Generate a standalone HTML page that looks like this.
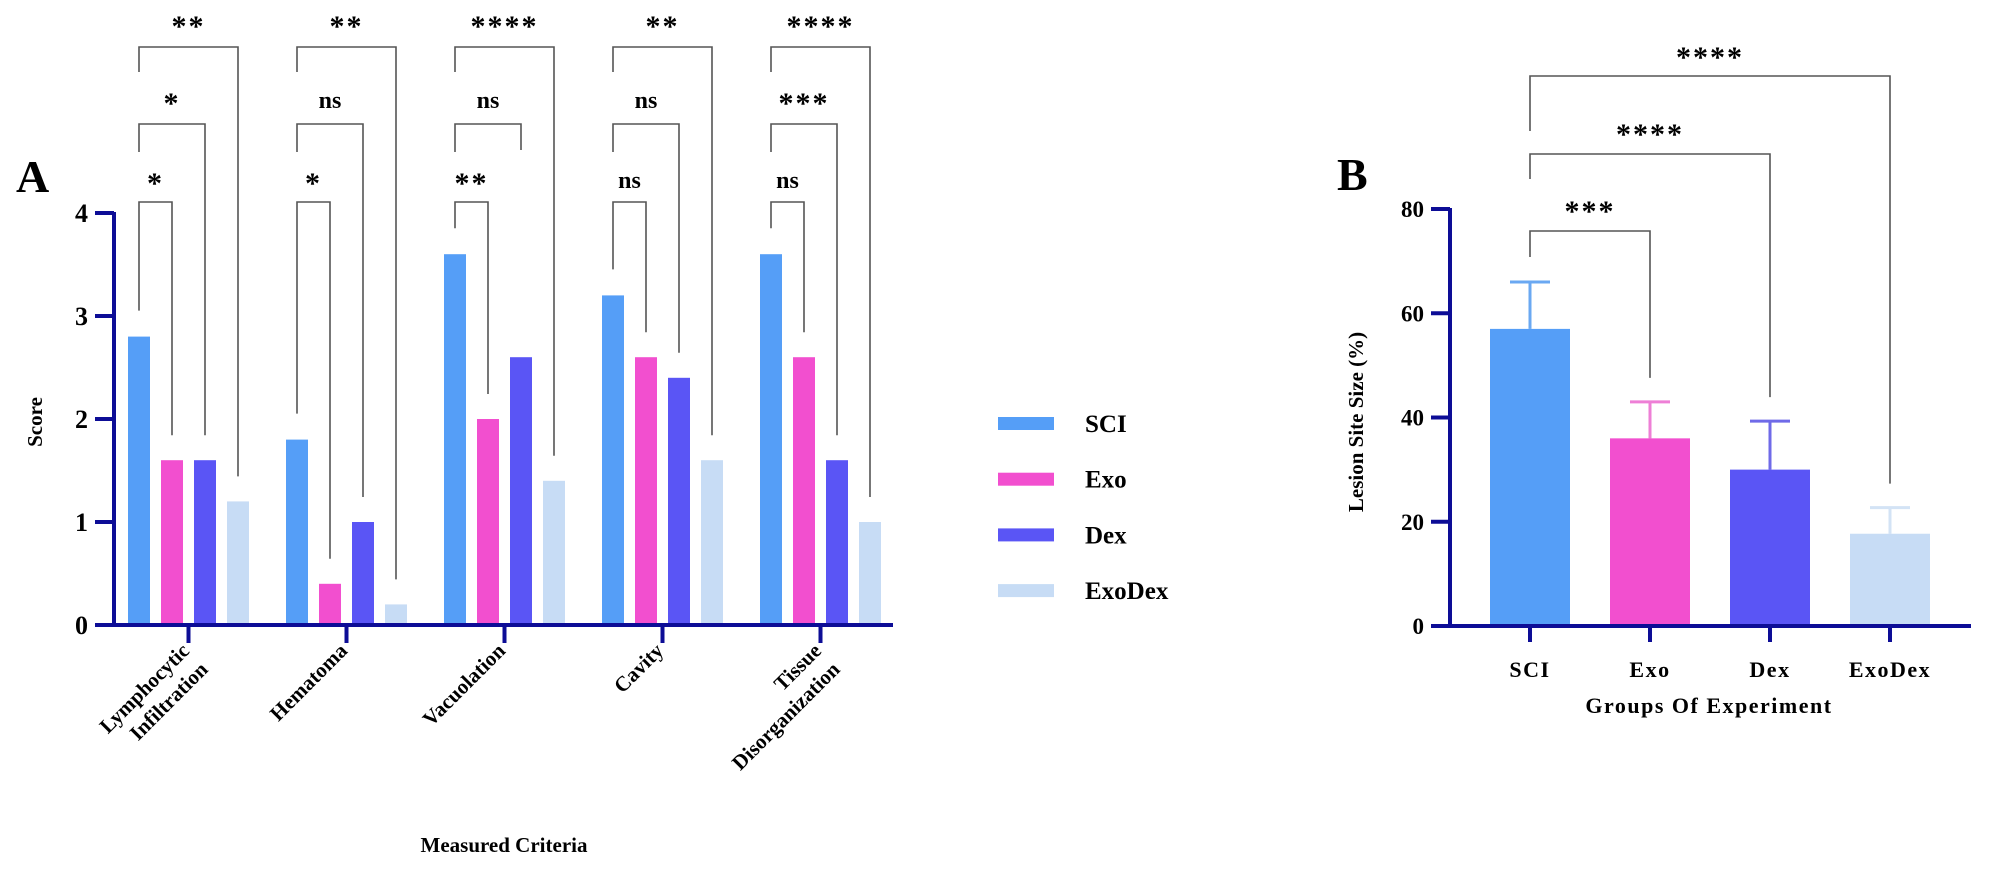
<!DOCTYPE html>
<html><head><meta charset="utf-8"><style>
html,body{margin:0;padding:0;background:#fff;}
svg{display:block;font-family:"Liberation Serif",serif;font-weight:bold;}
</style></head><body>
<svg id="fig" width="1999" height="872" viewBox="0 0 1999 872" xmlns="http://www.w3.org/2000/svg">
<g id="chartA"></g>
<g id="legend"></g>
<g id="chartB"></g>
</svg>
<script>
// ---- Chart A data ----
const catsA = [["Lymphocytic","Infiltration"],["Hematoma"],["Vacuolation"],["Cavity"],["Tissue","Disorganization"]];
const seriesNames = ["SCI","Exo","Dex","ExoDex"];
const sciA = [2.8,1.8,3.6,3.2,3.6];
const exoA = [1.6,0.4,2.0,2.6,2.6];
const dexA = [1.6,1.0,2.6,2.4,1.6];
const exoDexA = [1.2,0.2,1.4,1.6,1.0];
const ticksA = [0,1,2,3,4];
const sigTopA = ["**","**","****","**","****"];
const sigMidA = ["*","ns","ns","ns","***"];
const sigLowA = ["*","*","**","ns","ns"];
// ---- Chart B data ----
const catsB = ["SCI","Exo","Dex","ExoDex"];
const meanB = [57,36,30,17.7];
const errB = [66,43,39.3,22.7];
const ticksB = [0,20,40,60,80];
const sigB = ["***","****","****"];

const colors = ["#559ef7","#f24fcf","#5a55f5","#c7dcf5"];
const errColors = ["#6aa8f2","#ee7fd6","#6f6ae8","#d3e3f5"];
const AX = "#0d0d96";
const NS = "http://www.w3.org/2000/svg";
function mk(parent, tag, attrs, text){
  const e = document.createElementNS(NS, tag);
  for (const k in attrs) e.setAttribute(k, attrs[k]);
  if (text !== undefined) e.textContent = text;
  parent.appendChild(e);
  return e;
}

// ===== Chart A =====
const gA = document.getElementById('chartA');
const A = {x0:114, y0:625, unit:103, left:128, gp:158, sp:33, bw:22};
const yA = v => A.y0 - v*A.unit;
const xA = (g,s) => A.left + g*A.gp + s*A.sp;
const cxA = (g,s) => xA(g,s) + A.bw/2;
const seriesA = [sciA, exoA, dexA, exoDexA];

seriesA.forEach((arr,s)=>{
  arr.forEach((v,g)=>{
    const r = mk(gA,'rect',{x:xA(g,s),y:yA(v),width:A.bw,height:A.y0-yA(v),fill:colors[s]});
    
    
  });
});
let e = mk(gA,'line',{x1:A.x0,y1:yA(4)-1,x2:A.x0,y2:A.y0+2,stroke:AX,'stroke-width':4});
 
e = mk(gA,'line',{x1:A.x0-2,y1:A.y0,x2:893,y2:A.y0,stroke:AX,'stroke-width':4});
 
ticksA.forEach(t=>{
  const l = mk(gA,'line',{x1:95,y1:yA(t),x2:A.x0,y2:yA(t),stroke:AX,'stroke-width':4});
   
  const tx = mk(gA,'text',{x:88,y:yA(t)+9,'text-anchor':'end','font-size':26},String(t));
   
});
catsA.forEach((c,g)=>{
  const tx0 = A.left + g*A.gp + (3*A.sp + A.bw)/2;
  const l = mk(gA,'line',{x1:tx0,y1:A.y0,x2:tx0,y2:643,stroke:AX,'stroke-width':4});
   
  const t = mk(gA,'text',{transform:`translate(${tx0+2},${652}) rotate(-45)`,'text-anchor':'end','font-size':21});
   
  c.forEach((line,i)=>{ mk(t,'tspan',{x:0,dy:i?'1.25em':0},line); });
});
e = mk(gA,'text',{x:504,y:852,'text-anchor':'middle','font-size':21},"Measured Criteria");
 
e = mk(gA,'text',{transform:'translate(42,422) rotate(-90)','text-anchor':'middle','font-size':21},"Score");
 
e = mk(gA,'text',{x:16,y:192,'font-size':46},"A");
 

const levelsY = [47,124,202];
const labelsY = [23,100,180];
function label(parent, x, y, txt, name){
  const isNs = txt === 'ns';
  const t = mk(parent,'text',{x:x,y:isNs? y+8 : y+13,'text-anchor':'middle','font-size':isNs?24:30,'letter-spacing':isNs?0:2},txt);
  
  
}
function bracket(parent, x1, x2, y, leftEnd, rightEnd, name){
  const p = mk(parent,'path',{d:`M${x1},${leftEnd} V${y} H${x2} V${rightEnd}`,fill:'none',stroke:'#555','stroke-width':1.6});
  
  
}
const sigsA = [sigTopA, sigMidA, sigLowA];
for (let g=0; g<5; g++){
  for (let lv=0; lv<3; lv++){
    const target = 3 - lv;
    const x1 = cxA(g,0), x2 = cxA(g,target);
    const y = levelsY[lv];
    const sciTop = yA(sciA[g]) - 26;
    const leftEnd = lv < 2 ? Math.min(sciTop, labelsY[lv+1]-28) : sciTop;
    let rightEnd = yA(seriesA[target][g]) - 25;
    if (g===2 && lv===1) rightEnd = y + 26;
    bracket(gA, x1, x2, y, leftEnd, rightEnd, 'sig-bracket-a');
    label(gA, (x1+x2)/2, labelsY[lv], sigsA[lv][g], 'sig-label-a');
  }
}

// ===== Legend =====
const gL = document.getElementById('legend');
seriesNames.forEach((n,i)=>{
  const y = 423 + i*55.7;
  const r = mk(gL,'rect',{x:998,y:y-6,width:56,height:13,fill:colors[i]});
   
  const t = mk(gL,'text',{x:1085,y:y+9,'font-size':25},n);
   
});

// ===== Chart B =====
const gB = document.getElementById('chartB');
const B = {x0:1450, y0:626, top:209, vmax:80, left:1490, pitch:120, bw:80};
const yB = v => B.y0 - v*(B.y0-B.top)/B.vmax;
const cxB = i => B.left + i*B.pitch + B.bw/2;
meanB.forEach((v,i)=>{
  const ec = mk(gB,'path',{d:`M${cxB(i)},${yB(v)} V${yB(errB[i])} M${cxB(i)-20},${yB(errB[i])} H${cxB(i)+20}`,stroke:errColors[i],'stroke-width':3,fill:'none'});
   
  const r = mk(gB,'rect',{x:B.left+i*B.pitch,y:yB(v),width:B.bw,height:B.y0-yB(v),fill:colors[i]});
   
});
e = mk(gB,'line',{x1:B.x0,y1:B.top-1,x2:B.x0,y2:B.y0+2,stroke:AX,'stroke-width':4});
 
e = mk(gB,'line',{x1:B.x0-2,y1:B.y0,x2:1971,y2:B.y0,stroke:AX,'stroke-width':4});
 
ticksB.forEach(t=>{
  const l = mk(gB,'line',{x1:1431,y1:yB(t),x2:B.x0,y2:yB(t),stroke:AX,'stroke-width':4});
   
  const tx = mk(gB,'text',{x:1424,y:yB(t)+8,'text-anchor':'end','font-size':23},String(t));
   
});
catsB.forEach((c,i)=>{
  const l = mk(gB,'line',{x1:cxB(i),y1:B.y0,x2:cxB(i),y2:642,stroke:AX,'stroke-width':4});
   
  const t = mk(gB,'text',{x:cxB(i),y:677,'text-anchor':'middle','font-size':22,'letter-spacing':1.5},c);
   
});
e = mk(gB,'text',{x:1709,y:713,'text-anchor':'middle','font-size':22,'letter-spacing':1.5},"Groups Of Experiment");
 
e = mk(gB,'text',{transform:'translate(1363,422) rotate(-90)','text-anchor':'middle','font-size':21},"Lesion Site Size (%)");
 
e = mk(gB,'text',{x:1337,y:190,'font-size':46},"B");
 
const bLevels = [231,154,76];
const bLabels = [208,131,54];
const bLeftEnds = [257,179,131];
sigB.forEach((s,k)=>{
  const t = k+1;
  const x1 = cxB(0), x2 = cxB(t);
  bracket(gB, x1, x2, bLevels[k], bLeftEnds[k], yB(errB[t]) - 24, 'sig-bracket-b');
  label(gB, (x1+x2)/2, bLabels[k], s, 'sig-label-b');
});
</script>
</body></html>
